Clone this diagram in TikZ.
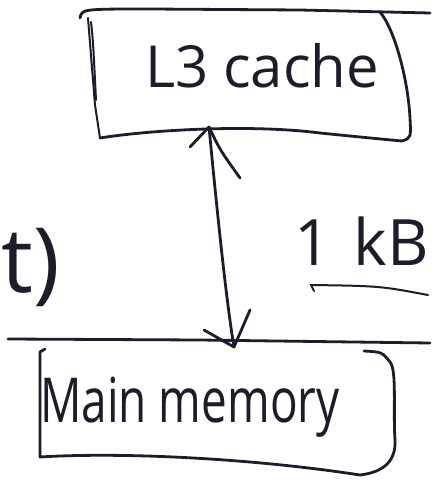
\documentclass[tikz,border=0pt]{standalone}
\usepackage{fontspec}
\setmainfont{Open Sans}
\begin{document}
\begin{tikzpicture}[x=1pt,y=-1pt,
  ink/.style={draw=inkblue,line width=2.8pt,line cap=round,line join=round},
  thin ink/.style={draw=inkblue,line width=2pt,line cap=round},
  hand/.style={text=inkblue,inner sep=0pt,font=\fontsize{#1}{#1}\selectfont},
]
\definecolor{inkblue}{HTML}{1C1C2A}
\useasboundingbox (0,0) rectangle (438,484);
\fill[white] (0,0) rectangle (438,484);

% ruled lines of the page
\draw[ink] (80,18) .. controls (82,9) .. (150,9) -- (300,10) -- (430,13);
\draw[ink] (8,339) -- (200,340) -- (430,343);

% L3 cache box
\draw[ink] (100,138) .. controls (150,130) and (250,124) .. (320,133)
  .. controls (370,138) .. (402,141) .. controls (411,138) .. (410,118)
  .. controls (408,80) and (395,30) .. (380,12);
\draw[thin ink] (88,18) -- (95,105) -- (100,138);
\draw[thin ink] (91,22) .. controls (93,40) .. (96,100);
\node[hand=58,anchor=base] (l3) at (262,88) {L3 cache};

% main memory box
\draw[ink] (45,349) -- (40,352) -- (40,457)
  .. controls (120,452) and (250,458) .. (360,475)
  .. controls (385,472) and (396,460) .. (395,440)
  .. controls (393,410) and (397,370) .. (390,362)
  .. controls (382,352) .. (364,351);
\node[hand=62,anchor=base,xscale=0.74] (mem) at (190,422) {Main memory};

% transfer between the two levels
\coordinate (l3bot) at (209,127);
\coordinate (memtop) at (234,347);
\draw[ink] (l3bot) .. controls (216,200) and (226,300) .. (memtop);
\draw[ink] (l3bot) -- (190,147);
\draw[ink] (l3bot) .. controls (220,150) .. (240,178);
\draw[ink] (memtop) -- (204,330);
\draw[ink] (memtop) -- (250,310);

% block size label
\node[hand=64,anchor=base east] (kb) at (429,265) {1\hspace{0.35em}kB};
\coordinate (ulstart) at (428,295);
\coordinate (ulend) at (311,285);
\draw[thin ink] (ulstart) .. controls (380,286) .. (ulend) -- (314,291);

% tail of a note on the left
\node[hand=90,anchor=base east] (note) at (60,292) {t)};
\end{tikzpicture}
\end{document}
